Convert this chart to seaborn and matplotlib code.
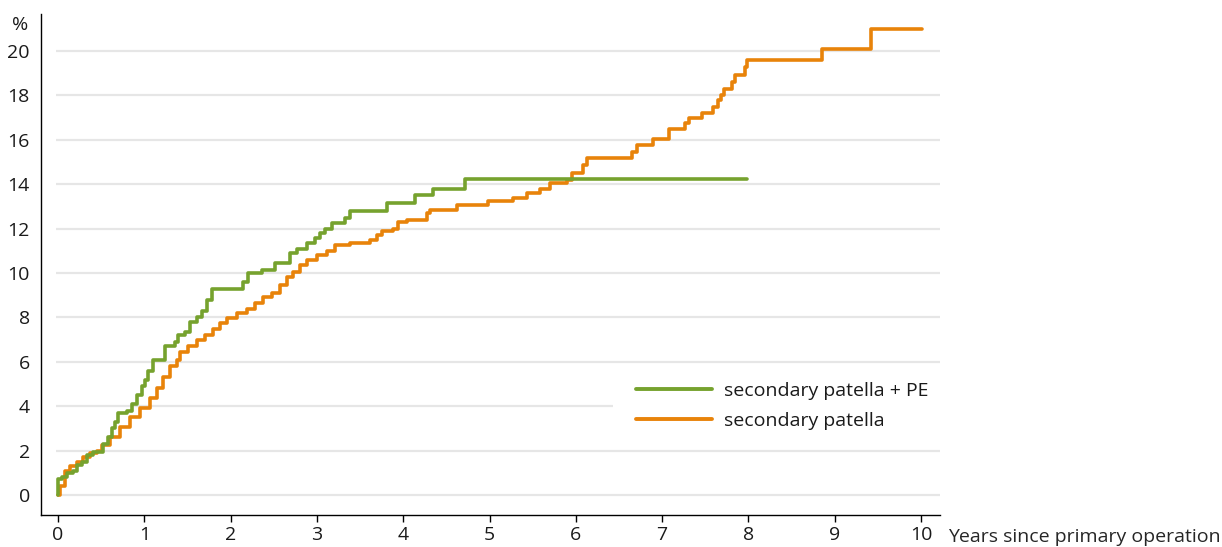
import numpy as np
import pandas as pd
import matplotlib
matplotlib.use("Agg")
import matplotlib.pyplot as plt
import seaborn as sns
from matplotlib.lines import Line2D

# ---- data ----
pe_years = [0.0, 0.0, 0.05, 0.10, 0.17, 0.22, 0.28, 0.34, 0.41, 0.52, 0.58, 0.63, 0.66, 0.70,
            0.80, 0.86, 0.92, 0.97, 1.01, 1.04, 1.10, 1.24, 1.36, 1.39, 1.47, 1.53, 1.61, 1.67,
            1.73, 1.78, 2.14, 2.20, 2.36, 2.51, 2.69, 2.77, 2.89, 2.98, 3.04, 3.09, 3.17, 3.33,
            3.38, 3.81, 4.14, 4.35, 4.72, 7.98]
pe_pct = [0.0, 0.7, 0.8, 1.0, 1.1, 1.35, 1.5, 1.8, 1.95, 2.3, 2.6, 3.0, 3.3, 3.7,
          3.8, 4.1, 4.5, 4.9, 5.2, 5.6, 6.1, 6.7, 6.9, 7.2, 7.35, 7.8, 8.0, 8.3,
          8.8, 9.3, 9.6, 10.0, 10.15, 10.45, 10.9, 11.1, 11.35, 11.6, 11.8, 12.0, 12.25, 12.5,
          12.8, 13.15, 13.5, 13.8, 14.23, 14.23]

pat_years = [0.0, 0.02, 0.08, 0.14, 0.22, 0.29, 0.37, 0.45, 0.51, 0.60, 0.72, 0.83, 0.95, 1.07,
             1.15, 1.22, 1.30, 1.38, 1.41, 1.51, 1.61, 1.70, 1.80, 1.88, 1.96, 2.07, 2.19, 2.28,
             2.38, 2.48, 2.57, 2.65, 2.72, 2.80, 2.89, 3.00, 3.12, 3.21, 3.38, 3.62, 3.70, 3.75,
             3.88, 3.94, 4.04, 4.28, 4.31, 4.62, 4.98, 5.27, 5.43, 5.59, 5.70, 5.90, 5.96, 6.08,
             6.13, 6.65, 6.71, 6.89, 7.08, 7.27, 7.31, 7.46, 7.59, 7.65, 7.68, 7.72, 7.81, 7.84,
             7.96, 7.98, 8.85, 9.42, 10.01]
pat_pct = [0.0, 0.4, 1.1, 1.3, 1.5, 1.7, 1.9, 2.0, 2.25, 2.6, 3.05, 3.5, 3.9, 4.35,
           4.8, 5.3, 5.8, 6.1, 6.45, 6.7, 7.0, 7.2, 7.5, 7.75, 7.97, 8.2, 8.4, 8.65,
           8.9, 9.1, 9.45, 9.8, 10.05, 10.35, 10.6, 10.8, 11.0, 11.25, 11.35, 11.5, 11.7, 11.9,
           12.0, 12.3, 12.4, 12.7, 12.84, 13.06, 13.24, 13.4, 13.6, 13.8, 14.05, 14.2, 14.5, 14.85,
           15.2, 15.45, 15.77, 16.05, 16.5, 16.75, 17.0, 17.2, 17.46, 17.8, 18.0, 18.3, 18.6, 18.9,
           19.3, 19.6, 20.1, 21.0, 21.0]

series_names = ["secondary patella + PE", "secondary patella"]
x_ticks = [0, 1, 2, 3, 4, 5, 6, 7, 8, 9, 10]
y_ticks = [0, 2, 4, 6, 8, 10, 12, 14, 16, 18, 20]
x_label = "Years since primary operation"
y_unit = "%"

GREEN = "#76A22E"
ORANGE = "#E8830A"
FS = 14

df = pd.concat([
    pd.DataFrame({"years": pat_years, "pct": pat_pct, "series": series_names[1]}),
    pd.DataFrame({"years": pe_years, "pct": pe_pct, "series": series_names[0]}),
], ignore_index=True)

sns.set_theme(style="white")
plt.rcParams["font.family"] = ["Open Sans", "DejaVu Sans"]
plt.rcParams["text.color"] = "#1a1a1a"

fig = plt.figure(figsize=(12.22, 5.47), dpi=100)
ax = fig.add_axes([41 / 1222, 32 / 547, 899 / 1222, 501 / 547])

# gridlines (the one at 4 is hidden behind the legend on the right)
for yv in y_ticks:
    xmax = 6.43 if yv == 4 else 10.22
    ax.hlines(yv, -0.02, xmax, color="#e6e6e6", lw=1.6, zorder=0)

sns.lineplot(data=df, x="years", y="pct", hue="series",
             hue_order=[series_names[1], series_names[0]],
             palette={series_names[0]: GREEN, series_names[1]: ORANGE},
             drawstyle="steps-post", estimator=None, sort=False,
             linewidth=2.6, ax=ax, legend=False)

ax.set_xlim(-0.197, 10.22)
ax.set_ylim(-0.9, 21.67)
ax.set_xticks(x_ticks)
ax.set_yticks(y_ticks)
ax.tick_params(axis="x", which="major", direction="out", length=5, width=1,
               color="black", pad=3, labelsize=FS, bottom=True, labelcolor="#1a1a1a")
ax.tick_params(axis="y", length=0, pad=8, labelsize=FS, labelcolor="#1a1a1a")
for s in ["top", "right"]:
    ax.spines[s].set_visible(False)
for s in ["left", "bottom"]:
    ax.spines[s].set_color("black")
    ax.spines[s].set_linewidth(1.0)

ax.set_ylabel("")
ax.set_xlabel(x_label, fontsize=FS, ha="left", va="center")
ax.xaxis.set_label_coords(1.009, -0.044)

ax.text(-0.0235, 0.978, y_unit, transform=ax.transAxes, ha="center", va="center",
        fontsize=FS)

handles = [Line2D([], [], color=GREEN, lw=2.8), Line2D([], [], color=ORANGE, lw=2.8)]
leg = ax.legend(handles, series_names, loc="center left",
                bbox_to_anchor=(636 / 1222, (547 - 406) / 547), bbox_transform=fig.transFigure,
                frameon=False, fontsize=FS, handlelength=3.9, handletextpad=0.62,
                labelspacing=0.62, borderpad=0, borderaxespad=0)

fig.savefig("out.png", dpi=100)
